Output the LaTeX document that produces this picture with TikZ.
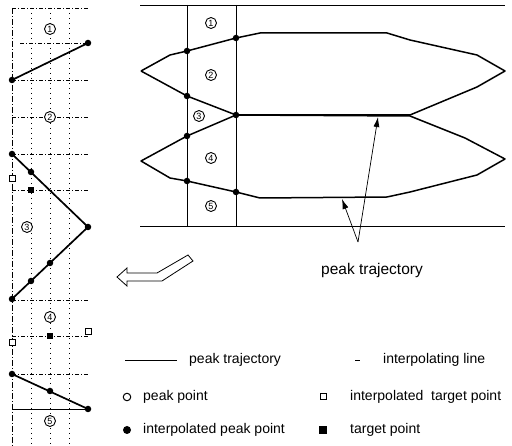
\documentclass[tikz,border=0pt]{standalone}
\usepackage{fontspec}
\setmainfont{Liberation Sans}
\usetikzlibrary{arrows.meta}
\tikzset{
  pt/.style={circle,fill,inner sep=0pt,minimum size=6.5pt},
  opt/.style={circle,draw,fill=white,inner sep=0pt,minimum size=7.5pt,line width=1pt},
  tsq/.style={rectangle,draw,fill=white,inner sep=0pt,minimum size=6pt,line width=1pt},
  ftsq/.style={rectangle,fill,inner sep=0pt,minimum size=6.5pt},
  num/.style={circle,draw,fill=white,inner sep=0.6pt,minimum size=11pt,line width=0.9pt,font=\fontsize{9}{9}\selectfont},
  traj/.style={line width=1.5pt,line join=round},
  gridv/.style={line width=0.5pt,dash pattern=on 1pt off 4pt},
  gridh/.style={line width=0.5pt,dash pattern=on 4pt off 2pt on 1pt off 2pt},
  lbl/.style={font=\fontsize{14}{14}\selectfont,anchor=west,inner sep=0pt},
}
\begin{document}
\begin{tikzpicture}[x=1pt,y=-1pt]
\useasboundingbox (0,0) rectangle (512,446);
% left panel: grid
\draw[line width=0.7pt,dash pattern=on 6pt off 2pt on 1pt off 2pt] (12,8) -- (12,446);
\foreach \x in {31,50,69} \draw[gridv] (\x,8) -- (\x,446);
\foreach \y in {8,80,117,154,190,300,336,374} \draw[gridh] (12,\y) -- (88,\y);
\draw[gridh] (20,43) -- (88,43);
\draw[line width=0.8pt] (12,409) -- (88,409);
% left panel: points
\path
(88,43) node[pt] (p1) {}
(12,80) node[pt] (p2) {}
(12,154) node[pt] (p3) {}
(31,172) node[pt] (p3a) {}
(88,227) node[pt] (p4) {}
(50,263) node[pt] (p4a) {}
(31,281) node[pt] (p4b) {}
(12,299) node[pt] (p5) {}
(12,374) node[pt] (p6) {}
(50,391) node[pt] (p6a) {}
(88,409) node[pt] (p7) {}
(12,179) node[tsq] (s3) {}
(31,190) node[ftsq] (t3) {}
(88,332) node[tsq] (s4a) {}
(12,343) node[tsq] (s4b) {}
(50,336) node[ftsq] (t4) {};
\draw[line width=1.7pt] (p2.center) -- (p1.center);
\draw[line width=1.7pt,line join=round] (p3.center) -- (p4.center) -- (p5.center);
\draw[line width=1.7pt] (p6.center) -- (p7.center);
\path
(50,29) node[num] (n1) {1}
(50,117) node[num] (n2) {2}
(27,227) node[num] (n3) {3}
(50,317) node[num] (n4) {4}
(50,421) node[num] (n5) {5};
% right panel: frame
\draw[line width=0.6pt] (140,5) -- (505,5);
\draw[line width=1pt] (140,227) -- (505,227);
\draw[line width=0.8pt] (187,5) -- (187,227);
\draw[line width=0.8pt] (236,5) -- (236,227);
% right panel: trajectories
\path
(141,71) coordinate (ul)
(141,161) coordinate (ll)
(505,71) coordinate (ur)
(505,159) coordinate (lr)
(187,51) node[pt] (a1) {}
(236,38) node[pt] (a2) {}
(187,96) node[pt] (b1) {}
(236,115) node[pt] (m) {}
(187,136) node[pt] (c1) {}
(187,181) node[pt] (d1) {}
(236,192) node[pt] (d2) {};
\draw[traj] (ul) -- (170,55) -- (a1.center) -- (a2.center) -- (260,33) -- (387,33)
  -- (410,40) -- (477,55) -- (ur) -- (477,87) -- (410,115) -- (m.center)
  -- (b1.center) -- (ul);
\draw[traj] (m.center) -- (410,116) -- (465,138) -- (lr) -- (477,175) -- (410,192)
  -- (387,197) -- (260,198) -- (d2.center) -- (d1.center) -- (170,178) -- (ll)
  -- (c1.center) -- (m.center);
\path
(211,23) node[num] (r1) {1}
(211,75) node[num] (r2) {2}
(199,116) node[num] (r3) {3}
(211,158) node[num] (r4) {4}
(211,206) node[num] (r5) {5};
% label with arrows
\node[font=\fontsize{15.5}{15.5}\selectfont] (trj) at (372,270) {peak trajectory};
\coordinate (lt) at (358,242);
\draw[-{Latex[length=10pt,width=6pt]},line width=0.7pt] (lt) -- (378,117);
\draw[-{Latex[length=10pt,width=6pt]},line width=0.7pt] (lt) -- (342,199);
% hollow arrow
\draw[line width=0.8pt] (117,277) -- (127,268) -- (127,273) -- (157,273) -- (188,255)
  -- (193,261) -- (162,281) -- (127,281) -- (127,286) -- cycle;
% legend
\draw[line width=0.9pt] (125,360) -- (177,360);
\node[lbl] (l1) at (189,360) {peak trajectory};
\draw[line width=0.7pt] (355,360) -- (360,360);
\node[lbl] (l2) at (383,360) {interpolating line};
\node[opt] (k3) at (127,397) {};
\node[lbl] (l3) at (143,397) {peak point};
\node[tsq] (k4) at (323,397) {};
\node[lbl] (l4) at (350,397) {interpolated\ \ target point};
\node[pt,minimum size=8pt] (k5) at (127,430) {};
\node[lbl] (l5) at (143,430) {interpolated peak point};
\node[ftsq,minimum size=7.5pt] (k6) at (323,430) {};
\node[lbl] (l6) at (350,430) {target point};
\end{tikzpicture}
\end{document}
